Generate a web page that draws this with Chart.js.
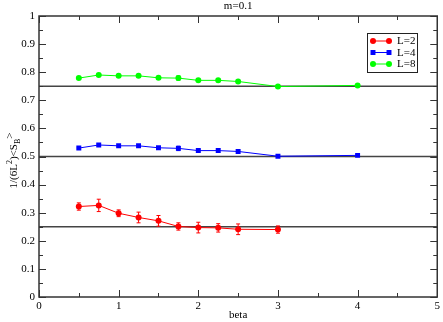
<!DOCTYPE html>
<html>
<head>
<meta charset="utf-8">
<script src="https://cdn.jsdelivr.net/npm/chart.js@4/dist/chart.umd.min.js"></script>
<style>
  html, body { margin: 0; padding: 0; background: #fff; }
  #wrap { width: 443px; height: 322px; }
</style>
</head>
<body>
<div id="wrap"><canvas id="myChart" width="443" height="322"></canvas></div>
<script>
// ─── data ───
const chartTitle = 'm=0.1';
const xTitle = 'beta';

const betaL2 = [0.5, 0.75, 1, 1.25, 1.5, 1.75, 2, 2.25, 2.5, 3];
const valL2  = [0.322, 0.326, 0.298, 0.283, 0.271, 0.251, 0.247, 0.246, 0.241, 0.240];
const errL2  = [0.013, 0.022, 0.012, 0.019, 0.019, 0.013, 0.019, 0.015, 0.019, 0.013];

const betaL4 = [0.5, 0.75, 1, 1.25, 1.5, 1.75, 2, 2.25, 2.5, 3, 4];
const valL4  = [0.530, 0.541, 0.538, 0.538, 0.531, 0.529, 0.521, 0.521, 0.518, 0.501, 0.504];
const errL4  = [0.003, 0.004, 0.003, 0.004, 0.004, 0.008, 0.004, 0.006, 0.005, 0.003, 0.003];

const betaL8 = [0.5, 0.75, 1, 1.25, 1.5, 1.75, 2, 2.25, 2.5, 3, 4];
const valL8  = [0.779, 0.790, 0.787, 0.787, 0.780, 0.779, 0.771, 0.771, 0.767, 0.749, 0.753];
const errL8  = [0.003, 0.004, 0.003, 0.004, 0.004, 0.008, 0.004, 0.005, 0.004, 0.003, 0.003];

const seriesLabels = ['L=2', 'L=4', 'L=8'];
const refLevels = [0.25, 0.5, 0.75];

const FONT = "'Liberation Serif', 'DejaVu Serif', serif";

function pts(xs, ys) {
  return xs.map((x, i) => ({ x, y: ys[i] }));
}

const seriesDefs = [
  { label: seriesLabels[0], xs: betaL2, ys: valL2, err: errL2, color: '#ff0000', style: 'circle', r: 3 },
  { label: seriesLabels[1], xs: betaL4, ys: valL4, err: errL4, color: '#0000ff', style: 'rect',   r: 3.5 },
  { label: seriesLabels[2], xs: betaL8, ys: valL8, err: errL8, color: '#00ff00', style: 'circle', r: 3 }
];

const datasets = seriesDefs.map(s => ({
  label: s.label,
  data: pts(s.xs, s.ys),
  errors: s.err,
  showLine: true,
  borderColor: s.color,
  backgroundColor: s.color,
  borderWidth: 1,
  pointStyle: s.style,
  pointRadius: s.r,
  pointBorderWidth: 0,
  order: 1
}));

refLevels.forEach(lv => {
  datasets.push({
    label: 'ref' + lv,
    data: [{ x: 0, y: lv }, { x: 5, y: lv }],
    showLine: true,
    borderColor: '#444',
    borderWidth: 1.5,
    pointRadius: 0,
    order: 10
  });
});

// ─── marker helper ───
function marker(ctx, style, x, y, r, color) {
  ctx.fillStyle = color;
  ctx.beginPath();
  if (style === 'rect') {
    const s = r * Math.SQRT1_2;
    ctx.rect(x - s, y - s, 2 * s, 2 * s);
  } else {
    ctx.arc(x, y, r, 0, Math.PI * 2);
  }
  ctx.fill();
}

// ─── error bars ───
const errorBars = {
  id: 'errorBars',
  afterDatasetsDraw(chart) {
    const ctx = chart.ctx;
    const ys = chart.scales.y;
    chart.data.datasets.forEach((ds, di) => {
      if (!ds.errors) return;
      const meta = chart.getDatasetMeta(di);
      ctx.save();
      ctx.strokeStyle = ds.borderColor;
      ctx.lineWidth = 1;
      meta.data.forEach((el, i) => {
        const v = ds.data[i].y, e = ds.errors[i];
        const yTop = ys.getPixelForValue(v + e);
        const yBot = ys.getPixelForValue(v - e);
        const x = el.x;
        ctx.beginPath();
        ctx.moveTo(x, yTop); ctx.lineTo(x, yBot);
        ctx.moveTo(x - 2, yTop); ctx.lineTo(x + 2, yTop);
        ctx.moveTo(x - 2, yBot); ctx.lineTo(x + 2, yBot);
        ctx.stroke();
      });
      ctx.restore();
    });
  }
};

// ─── frame, inward ticks, titles, legend ───
const decor = {
  id: 'decor',
  afterDraw(chart) {
    const ctx = chart.ctx;
    const a = chart.chartArea;
    const xs = chart.scales.x, ys = chart.scales.y;
    ctx.save();

    // frame
    ctx.strokeStyle = '#333';
    ctx.lineWidth = 1.5;
    ctx.strokeRect(a.left, a.top, a.right - a.left, a.bottom - a.top);

    // ticks
    ctx.lineWidth = 1;
    ctx.beginPath();
    const yTicks = ys.ticks.map(t => t.value);
    yTicks.forEach((v, i) => {
      const p = Math.round(ys.getPixelForValue(v)) + 0.5;
      ctx.moveTo(a.left, p); ctx.lineTo(a.left + 7, p);
      ctx.moveTo(a.right, p); ctx.lineTo(a.right - 7, p);
      if (i < yTicks.length - 1) {
        const m = Math.round(ys.getPixelForValue((v + yTicks[i + 1]) / 2)) + 0.5;
        ctx.moveTo(a.left, m); ctx.lineTo(a.left + 4, m);
        ctx.moveTo(a.right, m); ctx.lineTo(a.right - 4, m);
      }
    });
    const xTicks = xs.ticks.map(t => t.value);
    xTicks.forEach((v, i) => {
      const p = Math.round(xs.getPixelForValue(v)) + 0.5;
      ctx.moveTo(p, a.bottom); ctx.lineTo(p, a.bottom - 7);
      ctx.moveTo(p, a.top); ctx.lineTo(p, a.top + 7);
      if (i < xTicks.length - 1) {
        const m = Math.round(xs.getPixelForValue((v + xTicks[i + 1]) / 2)) + 0.5;
        ctx.moveTo(m, a.bottom); ctx.lineTo(m, a.bottom - 4);
        ctx.moveTo(m, a.top); ctx.lineTo(m, a.top + 4);
      }
    });
    ctx.stroke();

    // title
    ctx.fillStyle = '#000';
    ctx.font = '11px ' + FONT;
    ctx.textAlign = 'center';
    ctx.textBaseline = 'middle';
    ctx.fillText(chartTitle, (a.left + a.right) / 2, 6.5);

    // y title: 1/(6L²)<S_B>
    const parts = [
      { t: '1/(6L', size: 11, dy: 0 },
      { t: '2', size: 8, dy: -5 },
      { t: ')<S', size: 11, dy: 0 },
      { t: 'B', size: 8, dy: 3 },
      { t: '>', size: 11, dy: -4 }
    ];
    let total = 0;
    parts.forEach(p => { ctx.font = p.size + 'px ' + FONT; p.w = ctx.measureText(p.t).width; total += p.w; });
    ctx.save();
    ctx.translate(17, (a.top + a.bottom) / 2 + 4);
    ctx.rotate(-Math.PI / 2);
    ctx.textAlign = 'left';
    ctx.textBaseline = 'alphabetic';
    let cx = -total / 2;
    parts.forEach(p => {
      ctx.font = p.size + 'px ' + FONT;
      ctx.fillText(p.t, cx, p.dy);
      cx += p.w;
    });
    ctx.restore();

    // legend
    const lx = 367, ly = 33, lw = 50, lh = 39;
    ctx.fillStyle = '#fff';
    ctx.fillRect(lx, ly, lw, lh);
    ctx.strokeStyle = '#222';
    ctx.lineWidth = 1;
    ctx.strokeRect(lx + 0.5, ly + 0.5, lw, lh);
    seriesDefs.forEach((s, i) => {
      const y = ly + 8 + i * 11.5;
      ctx.strokeStyle = s.color;
      ctx.beginPath();
      ctx.moveTo(373, y); ctx.lineTo(389, y);
      ctx.stroke();
      marker(ctx, s.style, 373, y, s.r, s.color);
      marker(ctx, s.style, 389, y, s.r, s.color);
      ctx.fillStyle = '#000';
      ctx.font = '11px ' + FONT;
      ctx.textAlign = 'left';
      ctx.textBaseline = 'middle';
      ctx.fillText(s.label, 397, y + 0.5);
    });

    ctx.restore();
  }
};

const ctx = document.getElementById('myChart').getContext('2d');

const chart = new Chart(ctx, {
  type: 'scatter',
  data: { datasets },
  options: {
    responsive: false,
    animation: false,
    layout: { padding: { left: 0, right: 4, top: 16, bottom: 0 } },
    plugins: {
      legend: { display: false },
      title: { display: false },
      tooltip: { enabled: false }
    },
    scales: {
      x: {
        type: 'linear',
        min: 0, max: 5,
        grid: { display: false, drawTicks: false },
        border: { display: false },
        ticks: {
          stepSize: 1,
          padding: 3,
          color: '#000',
          maxRotation: 0,
          font: { family: FONT, size: 11 }
        },
        title: {
          display: true,
          text: xTitle,
          color: '#000',
          padding: 0,
          font: { family: FONT, size: 11 }
        },
        afterFit(scale) { scale.height = 25; }
      },
      y: {
        type: 'linear',
        min: 0, max: 1,
        grid: { display: false, drawTicks: false },
        border: { display: false },
        ticks: {
          stepSize: 0.1,
          padding: 4,
          color: '#000',
          font: { family: FONT, size: 11 },
          callback: v => (v === 0 || v === 1) ? String(v) : v.toFixed(1)
        },
        afterFit(scale) { scale.width = 39; }
      }
    }
  },
  plugins: [errorBars, decor]
});
</script>
</body>
</html>
